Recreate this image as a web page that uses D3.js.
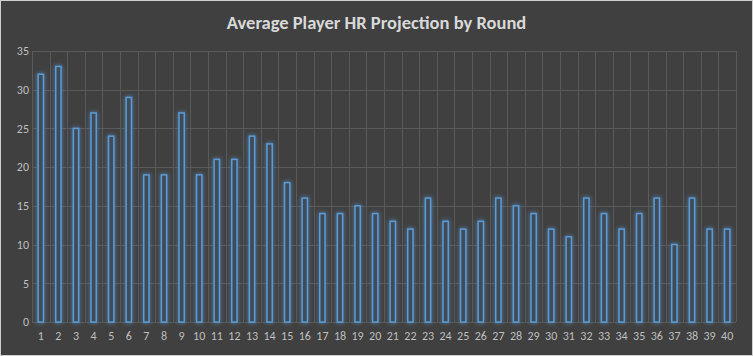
<!DOCTYPE html>
<html><head><meta charset="utf-8">
<script src="https://cdn.jsdelivr.net/npm/d3@7"></script>
<style>html,body{margin:0;padding:0;background:#404040;}svg{display:block;}</style>
</head><body>
<svg id="c" width="753" height="356"></svg>
<script>
const rounds = d3.range(1, 41).map(String);
const hrValues = [32,33,25,27,24,29,19,19,27,19,21,21,24,23,18,16,14,14,15,14,13,12,16,13,12,13,16,15,14,12,11,16,14,12,14,16,10,16,12,12];
const yTicks = [0,5,10,15,20,25,30,35];
const title = "Average Player HR Projection by Round";

const W = 753, H = 356;
const m = {left: 32, right: 17, top: 51, bottom: 34};
const svg = d3.select("#c");

svg.append("rect").attr("x",0.5).attr("y",0.5).attr("width",W-1).attr("height",H-1)
  .attr("fill","#404040").attr("stroke","#d0d0d0").attr("stroke-width",1);

const defs = svg.append("defs");
const f = defs.append("filter").attr("id","glow").attr("x","-100%").attr("y","-10%").attr("width","300%").attr("height","120%");
f.append("feGaussianBlur").attr("in","SourceGraphic").attr("stdDeviation",2.2).attr("result","b");
const mg = f.append("feMerge");
mg.append("feMergeNode").attr("in","b");
mg.append("feMergeNode").attr("in","SourceGraphic");

const x = d3.scaleBand().domain(rounds).range([m.left, W - m.right]).paddingInner(0.7).paddingOuter(0.35);
const xg = d3.scaleBand().domain(rounds).range([m.left, W - m.right]);
const y = d3.scaleLinear().domain([0,35]).range([H - m.bottom, m.top]);

// horizontal grid
svg.append("g").selectAll("line").data(yTicks).join("line")
  .attr("x1", m.left).attr("x2", W - m.right)
  .attr("y1", d => Math.round(y(d)) + 0.5).attr("y2", d => Math.round(y(d)) + 0.5)
  .attr("stroke", "#5a5a5a").attr("stroke-width", 1);
// vertical grid
const vb = rounds.map(r => xg(r)).concat([W - m.right]);
svg.append("g").selectAll("line").data(vb).join("line")
  .attr("x1", d => Math.round(d) + 0.5).attr("x2", d => Math.round(d) + 0.5)
  .attr("y1", y(35)).attr("y2", y(0))
  .attr("stroke", "#5a5a5a").attr("stroke-width", 1);

// bars
svg.append("g").attr("filter","url(#glow)").selectAll("rect").data(hrValues).join("rect")
  .attr("x", (d,i) => x(rounds[i]))
  .attr("y", d => y(d))
  .attr("width", x.bandwidth())
  .attr("height", d => y(0) - y(d))
  .attr("fill", "#414b58")
  .attr("stroke", "#5b9bd5").attr("stroke-width", 1.5);

// y axis labels
const yAxis = d3.axisLeft(y).tickValues(yTicks).tickSize(0).tickPadding(0);
const ya = svg.append("g").attr("transform", `translate(${m.left - 3},0)`).call(yAxis);
ya.select(".domain").remove();
ya.selectAll("text").attr("fill","#bfbfbf").style("font-family","Carlito, 'Liberation Sans Narrow', 'Open Sans', sans-serif").style("font-size","12px");

// x axis labels
const xAxis = d3.axisBottom(xg).tickSize(0).tickPadding(9);
const xa = svg.append("g").attr("transform", `translate(0,${y(0)})`).call(xAxis);
xa.select(".domain").remove();
xa.selectAll("text").attr("fill","#bfbfbf").style("font-family","Carlito, 'Liberation Sans Narrow', 'Open Sans', sans-serif").style("font-size","12px");

svg.append("text").attr("x", W/2).attr("y", 29).attr("text-anchor","middle")
  .attr("fill","#d9d9d9").style("font-family","Carlito, 'Open Sans', sans-serif")
  .style("font-weight","bold").style("font-size","18.5px").text(title);
</script>
</body></html>
